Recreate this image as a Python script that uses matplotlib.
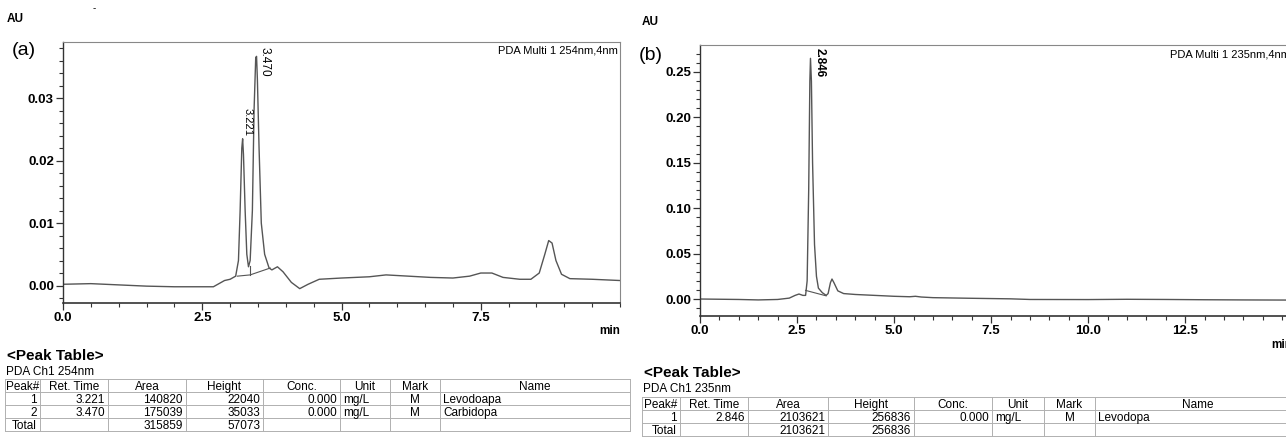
import matplotlib
matplotlib.use("Agg")
import matplotlib.pyplot as plt
from matplotlib import font_manager
from matplotlib.ticker import MultipleLocator, FixedLocator, FormatStrFormatter

# ---------------- data ----------------
# Chromatogram (a): 254 nm
t_a = [0.0, 0.5, 1.0, 1.5, 2.0, 2.5, 2.7, 2.8, 2.9, 3.0, 3.1, 3.15, 3.18, 3.21, 3.225,
       3.24, 3.27, 3.30, 3.33, 3.36, 3.40, 3.43, 3.46, 3.475, 3.49, 3.52, 3.56, 3.62,
       3.70, 3.75, 3.85, 3.95, 4.1, 4.25, 4.4, 4.6, 5.0, 5.5, 5.8, 6.2, 6.6, 7.0, 7.3,
       7.5, 7.7, 7.9, 8.2, 8.4, 8.55, 8.65, 8.72, 8.78, 8.85, 8.95, 9.1, 9.5, 10.0]
au_a = [0.0002, 0.0003, 0.0001, -0.0001, -0.0002, -0.0002, -0.0002, 0.0003, 0.0008,
        0.0010, 0.0015, 0.0040, 0.0120, 0.0220, 0.0235, 0.0210, 0.0120, 0.0050, 0.0030,
        0.0040, 0.0120, 0.0280, 0.0365, 0.0367, 0.0330, 0.0220, 0.0100, 0.0050, 0.0028,
        0.0025, 0.0030, 0.0022, 0.0005, -0.0005, 0.0002, 0.0010, 0.0012, 0.0014, 0.0017,
        0.0015, 0.0013, 0.0012, 0.0015, 0.0020, 0.0020, 0.0013, 0.0010, 0.0010, 0.0020,
        0.0050, 0.0072, 0.0068, 0.0040, 0.0018, 0.0011, 0.0010, 0.0008]
base_a_t = [3.13, 3.36, 3.72]
base_a_y = [0.0015, 0.0017, 0.0028]
peaks_a_t = [3.221, 3.470]
peaks_a_h = [0.0235, 0.0367]
peaks_a_lbl = ["3.221", "3.470"]
xticks_a = [0.0, 2.5, 5.0, 7.5]

# Chromatogram (b): 235 nm
t_b = [0.0, 1.0, 1.5, 2.0, 2.3, 2.45, 2.55, 2.65, 2.72, 2.76, 2.80, 2.83, 2.846, 2.87,
       2.90, 2.95, 3.0, 3.05, 3.15, 3.25, 3.30, 3.36, 3.40, 3.45, 3.55, 3.7, 4.0, 4.5,
       5.0, 5.4, 5.55, 5.7, 6.0, 7.0, 8.0, 8.5, 10.0, 11.0, 12.0, 13.0, 14.0, 15.5]
au_b = [0.000, -0.0005, -0.001, -0.0005, 0.001, 0.004, 0.0055, 0.004, 0.004, 0.020,
        0.120, 0.240, 0.265, 0.240, 0.150, 0.060, 0.025, 0.012, 0.007, 0.004, 0.006,
        0.018, 0.022, 0.018, 0.009, 0.006, 0.005, 0.004, 0.003, 0.0025, 0.003, 0.0022,
        0.0015, 0.0008, 0.0002, -0.0005, -0.0006, -0.0003, -0.0005, -0.0008, -0.0010,
        -0.0012]
base_b_t = [2.72, 3.25]
base_b_y = [0.0095, 0.0035]
peaks_b_t = [2.846]
peaks_b_h = [0.265]
peaks_b_lbl = ["2.846"]
xticks_b = [0.0, 2.5, 5.0, 7.5, 10.0, 12.5]

# Peak tables
table_cols = ["Peak#", "Ret. Time", "Area", "Height", "Conc.", "Unit", "Mark", "Name"]
table_a_rows = [["1", "3.221", "140820", "22040", "0.000", "mg/L", "M", "Levodoapa"],
                ["2", "3.470", "175039", "35033", "0.000", "mg/L", "M", "Carbidopa"],
                ["Total", "", "315859", "57073", "", "", "", ""]]
table_b_rows = [["1", "2.846", "2103621", "256836", "0.000", "mg/L", "M", "Levodopa"],
                ["Total", "", "2103621", "256836", "", "", "", ""]]
col_align = ["right", "right", "right", "right", "right", "left", "center", "left"]

# ---------------- style ----------------
avail = {f.name for f in font_manager.fontManager.ttflist}
fams = [f for f in ["Liberation Sans Narrow", "Liberation Sans", "DejaVu Sans"] if f in avail]
plt.rcParams["font.family"] = fams

W, H = 1286, 443
fig = plt.figure(figsize=(W / 100, H / 100), dpi=100)

LINE = "#555555"
SPINE_DARK = "#333333"
SPINE_LIGHT = "#888888"


def px_axes(x0, y0, x1, y1):
    return fig.add_axes([x0 / W, 1 - y1 / H, (x1 - x0) / W, (y1 - y0) / H])


def style_axes(ax, xticks, xmin, ymaj, ymin, yfmt):
    ax.xaxis.set_major_locator(FixedLocator(xticks))
    ax.xaxis.set_minor_locator(MultipleLocator(xmin))
    ax.yaxis.set_major_locator(MultipleLocator(ymaj))
    ax.yaxis.set_minor_locator(MultipleLocator(ymin))
    ax.yaxis.set_major_formatter(FormatStrFormatter(yfmt))
    ax.xaxis.set_major_formatter(FormatStrFormatter("%.1f"))
    ax.tick_params(which="major", length=5, width=0.9, color=SPINE_DARK, labelsize=9.5,
                   pad=1.5, direction="out")
    ax.tick_params(which="minor", length=3, width=0.8, color=SPINE_DARK, direction="out")
    for lab in ax.get_xticklabels() + ax.get_yticklabels():
        lab.set_fontweight("bold")
    ax.spines["left"].set_color(SPINE_DARK)
    ax.spines["bottom"].set_color(SPINE_DARK)
    ax.spines["left"].set_linewidth(1.0)
    ax.spines["bottom"].set_linewidth(1.2)
    ax.spines["top"].set_color(SPINE_LIGHT)
    ax.spines["right"].set_color(SPINE_LIGHT)


# ---- chart (a)
ax1 = px_axes(63, 42, 620, 303)
ax1.plot(t_a, au_a, color=LINE, lw=1.0)
ax1.plot(base_a_t, base_a_y, color=LINE, lw=0.8)
ax1.plot([base_a_t[1], base_a_t[1]], [base_a_y[1], 0.0032], color=LINE, lw=0.8)
ax1.set_xlim(0, 10.0)
ax1.set_ylim(-0.0028, 0.039)
style_axes(ax1, xticks_a, 0.5, 0.01, 0.002, "%.2f")
ax1.annotate(peaks_a_lbl[0], xy=(peaks_a_t[0], peaks_a_h[0]), xytext=(0.3, 2),
             textcoords="offset points", rotation=270, ha="left", va="bottom",
             fontsize=8)
ax1.annotate(peaks_a_lbl[1], xy=(peaks_a_t[1], 0.0387), xytext=(1.5, -2),
             textcoords="offset points", rotation=270, ha="left", va="top",
             fontsize=8.5)
ax1.text(0.997, 0.985, "PDA Multi 1 254nm,4nm", transform=ax1.transAxes,
         ha="right", va="top", fontsize=8)

# ---- chart (b)
ax2 = px_axes(700, 45, 1292, 316)
ax2.plot(t_b, au_b, color=LINE, lw=1.0)
ax2.plot(base_b_t, base_b_y, color=LINE, lw=0.8)
ax2.set_xlim(0, 15.25)
ax2.set_ylim(-0.0187, 0.2797)
style_axes(ax2, xticks_b, 0.5, 0.05, 0.01, "%.2f")
ax2.annotate(peaks_b_lbl[0], xy=(peaks_b_t[0], 0.2797), xytext=(2, -2),
             textcoords="offset points", rotation=270, ha="left", va="top",
             fontsize=8.5, fontweight="bold")
ax2.text(0.997, 0.985, "PDA Multi 1 235nm,4nm", transform=ax2.transAxes,
         ha="right", va="top", fontsize=8)

# ---- overlay for free text and tables (pixel coordinates)
ov = fig.add_axes([0, 0, 1, 1], zorder=5)
ov.set_xlim(0, W)
ov.set_ylim(H, 0)
ov.axis("off")
ov.patch.set_alpha(0)

ov.text(7, 19, "AU", fontsize=8.5, fontweight="bold", va="center", ha="left")
ov.text(93, 8, "-", fontsize=7, va="center", ha="left")
ov.text(12, 50, "(a)", fontsize=14, va="center", ha="left")
ov.text(620, 331, "min", fontsize=8.5, fontweight="bold", va="center", ha="right")

ov.text(642, 22, "AU", fontsize=8.5, fontweight="bold", va="center", ha="left")
ov.text(639, 55, "(b)", fontsize=14, va="center", ha="left")
ov.text(1292, 345, "min", fontsize=8.5, fontweight="bold", va="center", ha="right")


def draw_table(x_edges, y_title, y_sub, sub, y_top, rows, rh=13.0):
    ov.text(x_edges[0] + 2, y_title, "<Peak Table>", fontsize=11, fontweight="bold",
            va="center", ha="left")
    ov.text(x_edges[0] + 1, y_sub, sub, fontsize=8.5, va="center", ha="left")
    all_rows = [table_cols] + rows
    n = len(all_rows)
    gc = "#b0b0b0"
    for i in range(n + 1):
        y = y_top + i * rh
        ov.plot([x_edges[0], x_edges[-1]], [y, y], color=gc, lw=0.7)
    for x in x_edges:
        ov.plot([x, x], [y_top, y_top + n * rh], color=gc, lw=0.7)
    for r, row in enumerate(all_rows):
        yc = y_top + (r + 0.5) * rh
        for c, val in enumerate(row):
            x0, x1 = x_edges[c], x_edges[c + 1]
            if r == 0:
                ha, x = "center", (x0 + x1) / 2
            else:
                ha = col_align[c]
                x = {"right": x1 - 3, "left": x0 + 3, "center": (x0 + x1) / 2}[ha]
            ov.text(x, yc, val, fontsize=8.5, va="center_baseline", ha=ha)


draw_table([5, 40, 108, 186, 263, 340, 390, 440, 630], 356, 372, "PDA Ch1 254nm",
           379, table_a_rows)
draw_table([642, 680, 748, 828, 914, 992, 1044, 1095, 1300], 373, 389, "PDA Ch1 235nm",
           397, table_b_rows)

fig.savefig("out.png", dpi=100)
